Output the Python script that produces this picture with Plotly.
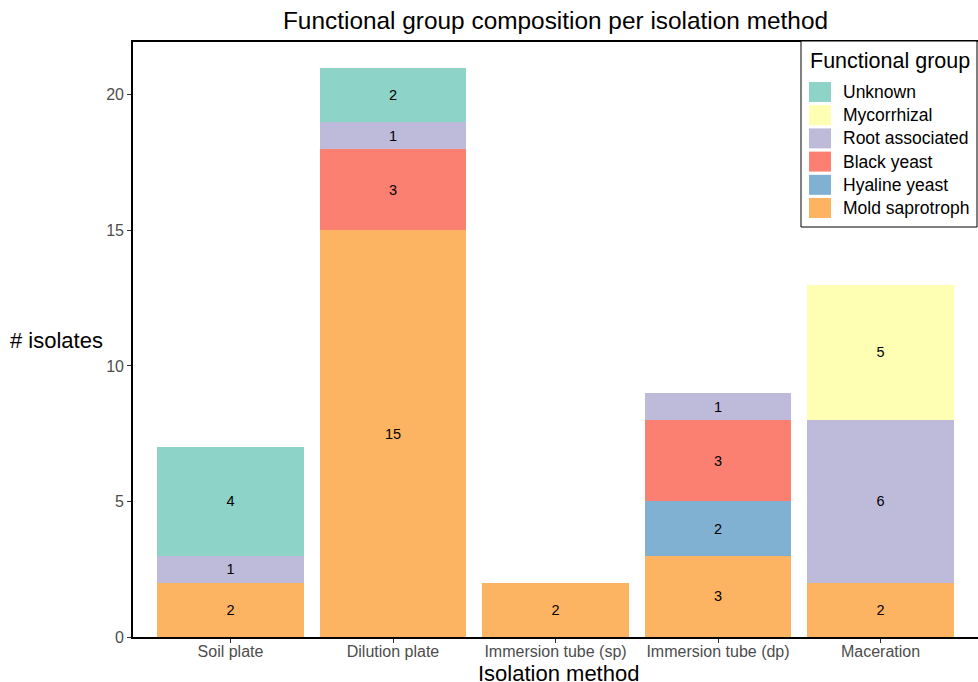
import plotly.graph_objects as go

methods = ["Soil plate", "Dilution plate", "Immersion tube (sp)", "Immersion tube (dp)", "Maceration"]
groups = ["Mold saprotroph", "Hyaline yeast", "Black yeast", "Root associated", "Mycorrhizal", "Unknown"]
colors = ["#FDB462", "#80B1D3", "#FB8072", "#BEBADA", "#FFFFB3", "#8DD3C7"]

mold_saprotroph = [2, 15, 2, 3, 2]
hyaline_yeast = [0, 0, 0, 2, 0]
black_yeast = [0, 3, 0, 3, 0]
root_associated = [1, 1, 0, 1, 6]
mycorrhizal = [0, 0, 0, 0, 5]
unknown = [4, 2, 0, 0, 0]

series = [mold_saprotroph, hyaline_yeast, black_yeast, root_associated, mycorrhizal, unknown]

FONT = "Liberation Sans, Arial, Helvetica, sans-serif"
W, H = 978, 682
L, R, T, B = 133, 0, 42, 45
PW, PH = W - L - R, H - T - B


def px(x):
    return (x - L) / PW


def py(y):
    return 1 - (y - T) / PH


fig = go.Figure()
for name, vals, col in zip(groups, series, colors):
    fig.add_trace(go.Bar(
        x=methods,
        y=[v if v > 0 else None for v in vals],
        name=name,
        showlegend=False,
        marker=dict(color=col, line=dict(width=0)),
        width=0.9,
        text=[str(v) if v > 0 else "" for v in vals],
        textposition="inside",
        insidetextanchor="middle",
        textfont=dict(color="black", size=14.5, family=FONT),
        textangle=0,
    ))

# manual legend (ggplot-style) in the top-right corner
shapes = [dict(type="rect", xref="paper", yref="paper",
               x0=px(801), x1=px(977), y0=py(227), y1=py(41),
               line=dict(color="black", width=1), fillcolor="white", layer="above")]
annotations = [dict(text="Functional group", xref="paper", yref="paper",
                    x=px(808), y=py(61), xanchor="left", yanchor="middle",
                    showarrow=False, font=dict(size=21.5, color="black", family=FONT))]
legend_order = list(reversed(range(len(groups))))
for i, gi in enumerate(legend_order):
    cy = 92 + i * 23.2
    shapes.append(dict(type="rect", xref="paper", yref="paper",
                       x0=px(809), x1=px(831), y0=py(cy + 10), y1=py(cy - 10),
                       line=dict(width=0), fillcolor=colors[gi], layer="above"))
    annotations.append(dict(text=groups[gi], xref="paper", yref="paper",
                            x=px(841), y=py(cy), xanchor="left", yanchor="middle",
                            showarrow=False, font=dict(size=17.5, color="black", family=FONT)))

annotations.append(dict(text="# isolates", xref="paper", yref="paper",
                        x=px(56), y=py(340), xanchor="center", yanchor="middle",
                        showarrow=False, font=dict(size=22, color="black", family=FONT)))
annotations.append(dict(text="Isolation method", xref="paper", yref="paper",
                        x=px(558), y=py(673), xanchor="center", yanchor="middle",
                        showarrow=False, font=dict(size=22, color="black", family=FONT)))

fig.update_layout(
    barmode="stack",
    width=W, height=H,
    margin=dict(l=L, r=R, t=T, b=B),
    paper_bgcolor="white", plot_bgcolor="white",
    font=dict(family=FONT, color="black"),
    showlegend=False,
    title=dict(text="Functional group composition per isolation method",
               x=(L + W) / 2 / W, xanchor="center", y=1 - 20 / H, yanchor="middle",
               font=dict(size=24.4, color="black", family=FONT)),
    xaxis=dict(
        range=[-0.6, 4.6],
        showline=True, linecolor="black", linewidth=1.6, mirror=True,
        ticks="outside", ticklen=4, tickcolor="#333333", tickwidth=1,
        tickfont=dict(size=16, color="#4D4D4D", family=FONT),
        ticklabelstandoff=-5,
        showgrid=False,
    ),
    yaxis=dict(
        range=[0, 21.95],
        showline=True, linecolor="black", linewidth=1.6, mirror=False,
        ticks="outside", ticklen=4, tickcolor="#333333", tickwidth=1,
        tickvals=[0, 5, 10, 15, 20],
        tickfont=dict(size=16, color="#4D4D4D", family=FONT),
        showgrid=False, zeroline=False,
    ),
    shapes=shapes,
    annotations=annotations,
)

fig.write_html("out.html",
               config={"displayModeBar": False},
               post_script="document.body.style.margin='0px';document.body.style.padding='0px';")
